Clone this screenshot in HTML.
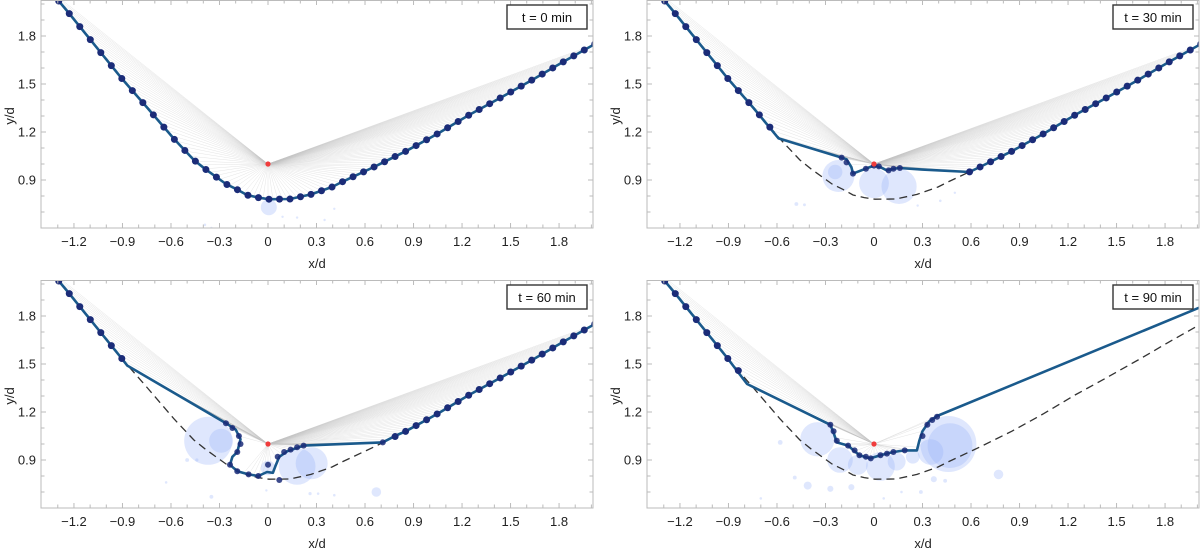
<!DOCTYPE html>
<html><head><meta charset="utf-8">
<style>
html,body{margin:0;padding:0;background:#fff;}
svg{display:block;font-family:"Liberation Sans",Arial,sans-serif;}
</style></head>
<body>
<svg id="chart" width="1200" height="549" viewBox="0 0 1200 549"></svg>
<script>
// ---- data ----
const initX = [-1.42,-1.237,-1.073,-0.909,-0.745,-0.581,-0.458,-0.39,-0.26,-0.19,-0.13,-0.06,0.006,0.136,0.266,0.396,0.458,0.655,0.853,1.05,1.243,1.44,1.633,1.82,2.03];
const initY = [2.17,1.95,1.745,1.54,1.35,1.156,1.025,0.97,0.875,0.84,0.806,0.79,0.78,0.781,0.81,0.856,0.888,0.981,1.08,1.19,1.306,1.415,1.525,1.635,1.755];

const t30X = [-1.42,-1.237,-1.073,-0.909,-0.745,-0.59,-0.2,-0.17,-0.14,-0.13,-0.08,-0.04,0,0.04,0.08,0.12,0.155,0.3,0.59,0.655,0.853,1.05,1.243,1.44,1.633,1.82,2.03];
const t30Y = [2.17,1.95,1.745,1.54,1.35,1.16,1.04,1.03,0.98,0.94,0.96,0.975,0.99,0.98,0.96,0.97,0.975,0.965,0.95,0.981,1.08,1.19,1.306,1.415,1.525,1.635,1.755];

const t60X = [-1.42,-1.237,-1.073,-0.909,-0.87,-0.26,-0.2,-0.17,-0.19,-0.22,-0.235,-0.19,-0.12,-0.06,-0.006,0.03,0.045,0.07,0.12,0.22,0.71,0.785,0.853,1.05,1.243,1.44,1.633,1.82,2.03];
const t60Y = [2.17,1.95,1.745,1.54,1.49,1.13,1.09,1.03,0.95,0.92,0.87,0.83,0.81,0.80,0.825,0.82,0.86,0.92,0.955,0.99,1.01,1.05,1.08,1.19,1.306,1.415,1.525,1.635,1.755];

const t90X = [-1.42,-1.237,-1.073,-0.909,-0.785,-0.27,-0.25,-0.23,-0.16,-0.09,-0.025,0.04,0.12,0.19,0.265,0.28,0.3,0.34,0.39,2.03];
const t90Y = [2.17,1.95,1.745,1.54,1.375,1.12,1.07,1.01,0.99,0.93,0.91,0.93,0.95,0.96,0.96,1.02,1.08,1.14,1.175,1.86];

const dotRanges0 = [[-1.35,2.03]];
const dotRanges30 = [[-1.35,-0.58],[0.58,2.03]];
const dotRanges60 = [[-1.35,-0.88],[0.78,2.03]];
const dotRanges90 = [[-1.35,-0.78]];
const cd0 = [[0.006,0.78]];
const cd30 = [[-0.2,1.04],[-0.17,1.01],[-0.13,0.94],[-0.05,0.97],[0,0.99],[0.03,0.985],[0.09,0.96],[0.12,0.97],[0.16,0.975]];
const cd60 = [[-0.26,1.13],[-0.22,1.1],[-0.18,1.05],[-0.17,1.0],[-0.19,0.95],[-0.235,0.87],[-0.19,0.83],[-0.12,0.81],[-0.06,0.80],[0.07,0.775],[0,0.87],[0.06,0.92],[0.1,0.95],[0.14,0.965],[0.18,0.98],[0.22,0.99],[0.71,1.01]];
const cd90 = [[-0.27,1.12],[-0.25,1.08],[-0.23,1.02],[-0.16,0.99],[-0.12,0.96],[-0.09,0.93],[-0.05,0.92],[-0.02,0.91],[0.04,0.93],[0.08,0.94],[0.12,0.95],[0.19,0.96],[0.3,1.05],[0.33,1.12],[0.36,1.15],[0.39,1.17]];
const b0 = [[0.005,0.73,0.05],[-0.39,0.62,0.008],[-0.35,0.6,0.006],[0.09,0.67,0.006],[0.18,0.665,0.005],[0.35,0.65,0.005],[0.41,0.72,0.003]];
const b30 = [[-0.22,0.925,0.1],[-0.24,0.95,0.045],[0,0.88,0.093],[0.155,0.86,0.11],[-0.48,0.75,0.012],[-0.43,0.745,0.009],[0.41,0.77,0.008],[0.27,0.74,0.006],[0.5,0.82,0.005]];
const b60 = [[-0.37,1.02,0.15],[-0.29,1.02,0.075],[0.18,0.86,0.115],[0.27,0.88,0.1],[0,0.85,0.045],[0.67,0.7,0.03],[-0.5,0.9,0.012],[-0.44,0.9,0.01],[-0.35,0.67,0.012],[0.26,0.69,0.01],[0.31,0.69,0.008],[0.41,0.68,0.008],[-0.63,0.76,0.008],[-0.01,0.71,0.007]];
const b90 = [[-0.35,1.03,0.107],[-0.21,0.9,0.08],[0.04,0.86,0.09],[-0.1,0.87,0.062],[0.14,0.89,0.056],[0.24,0.92,0.043],[0.35,0.95,0.08],[0.46,1.0,0.175],[0.47,0.99,0.14],[-0.41,0.74,0.025],[-0.27,0.72,0.019],[-0.14,0.73,0.019],[-0.58,1.01,0.015],[0.37,0.78,0.019],[0.44,0.77,0.012],[0.77,0.81,0.03],[0.29,0.7,0.012],[-0.49,0.79,0.012],[-0.7,0.66,0.008],[0.06,0.66,0.008],[0.17,0.7,0.008]];

const tickLabels = [-1.2,-0.9,-0.6,-0.3,0,0.3,0.6,0.9,1.2,1.5,1.8];
const yTickLabels = [0.9,1.2,1.5,1.8];

const panels = [
 {name:'t0', label:'t = 0 min', ox:0, oy:0, X:initX, Y:initY, dots:dotRanges0, cd:cd0, b:b0, rays:[-1.35,2.03], dashed:false},
 {name:'t30', label:'t = 30 min', ox:606, oy:0, X:t30X, Y:t30Y, dots:dotRanges30, cd:cd30, b:b30, rays:[-1.35,2.03], dashed:true},
 {name:'t60', label:'t = 60 min', ox:0, oy:280, X:t60X, Y:t60Y, dots:dotRanges60, cd:cd60, b:b60, rays:[-1.35,2.03], dashed:true},
 {name:'t90', label:'t = 90 min', ox:606, oy:280, X:t90X, Y:t90Y, dots:dotRanges90, cd:cd90, b:b90, rays:[-1.35,0.39], dashed:true}
];

const NS='http://www.w3.org/2000/svg';
const svg=document.getElementById('chart');
function el(tag,attrs,parent){const e=document.createElementNS(NS,tag);for(const k in attrs)e.setAttribute(k,attrs[k]);(parent||svg).appendChild(e);return e;}
function interp(X,Y,x){for(let i=0;i<X.length-1;i++){const a=X[i],b=X[i+1];if((x>=a&&x<=b)||(x>=b&&x<=a)){const t=(b===a)?0:(x-a)/(b-a);return Y[i]+t*(Y[i+1]-Y[i]);}}return null;}
function interpFirst(X,Y,x){for(let i=0;i<X.length-1;i++){ if(x>=X[i]&&x<=X[i+1]){const t=(x-X[i])/(X[i+1]-X[i]);return Y[i]+t*(Y[i+1]-Y[i]);}} return null;}
const fmt=v=>(v<0?'\u2212':'')+Math.abs(v).toString();

panels.forEach(p=>{
 const L=41+p.ox, R=593+p.ox, T=0+p.oy, B=228+p.oy;
 const sx=x=>268+p.ox+x*161.7;
 const sy=y=>164+p.oy-(y-1)*160;
 const g=el('g',{});
 
 
 const cid='clip-'+p.name;
 const cp=el('clipPath',{id:cid},g); el('rect',{x:L,y:T,width:R-L,height:B-T},cp);
 const plot=el('g',{'clip-path':'url(#'+cid+')'},g);
 p.b.forEach(c=>{const e=el('circle',{cx:sx(c[0]),cy:sy(c[1]),r:Math.max(1.2,c[2]*160),fill:'rgb(150,175,250)','fill-opacity':0.3},plot);
  });
 const rg=el('g',{stroke:'#c4c4c4','stroke-width':0.5,'stroke-opacity':0.45},plot);
 
 for(let x=p.rays[0];x<=p.rays[1]+1e-9;x+=0.03){const y=interpFirst(p.X,p.Y,x)??interp(p.X,p.Y,x);if(y==null)continue;
  el('line',{x1:sx(0),y1:sy(1),x2:sx(x),y2:sy(y)},rg);}
 if(p.dashed){const d=initX.map((x,i)=>(i?'L':'M')+sx(x).toFixed(1)+','+sy(initY[i]).toFixed(1)).join('');
  const e=el('path',{d:d,fill:'none',stroke:'#333','stroke-width':1.3,'stroke-dasharray':'8 5'},plot);
  }
 const d=p.X.map((x,i)=>(i?'L':'M')+sx(x).toFixed(1)+','+sy(p.Y[i]).toFixed(1)).join('');
 const pr=el('path',{d:d,fill:'none',stroke:'#1a5a8c','stroke-width':2.6,'stroke-linejoin':'round'},plot);
 
 p.dots.forEach(rg2=>{for(let k=-25;k<=35;k++){const x=0.006+k*0.065;if(x<rg2[0]||x>rg2[1])continue;
  const y=interp(initX,initY,x);const e=el('circle',{cx:sx(x),cy:sy(y),r:3.5,fill:'#1b2c78'},plot);
  }});
 p.cd.forEach(c=>{const e=el('circle',{cx:sx(c[0]),cy:sy(c[1]),r:3,fill:'#1b2c78','fill-opacity':0.85},plot);
  });
 const src=el('circle',{cx:sx(0),cy:sy(1),r:2.6,fill:'#f03c3c'},plot);
 
 const fr=el('rect',{x:L,y:T+0.5,width:R-L,height:B-T-0.5,fill:'none',stroke:'#bbb','stroke-width':1},g);
 
 const tk=el('g',{stroke:'#bbb','stroke-width':1},g);
 for(let i=-14;i<=20;i++){const x=i/10;const X=sx(x);if(X<=L+1||X>=R-1)continue;const len=(i%3===0)?5:3.5;
  el('line',{x1:X,y1:B,x2:X,y2:B-len},tk);el('line',{x1:X,y1:T,x2:X,y2:T+len},tk);}
 for(let i=7;i<=20;i++){const y=i/10;const Y=sy(y);if(Y<=T+1||Y>=B-1)continue;const len=(i%3===0)?5:3.5;
  el('line',{x1:L,y1:Y,x2:L+len,y2:Y},tk);el('line',{x1:R,y1:Y,x2:R-len,y2:Y},tk);}
 tickLabels.forEach(v=>{const t=el('text',{x:sx(v),y:B+18,'font-size':13,'text-anchor':'middle',fill:'#222'},g);t.textContent=fmt(v);
  });
 yTickLabels.forEach(v=>{const t=el('text',{x:L-5,y:sy(v)+4.5,'font-size':13,'text-anchor':'end',fill:'#222'},g);t.textContent=v.toFixed(1);
  });
 const xt=el('text',{x:317+p.ox,y:B+40,'font-size':13,'text-anchor':'middle',fill:'#222'},g);xt.textContent='x/d';
 
 const yt=el('text',{x:0,y:0,'font-size':13,'text-anchor':'middle',fill:'#222',transform:'translate('+(14+p.ox)+','+(116+p.oy)+') rotate(-90)'},g);yt.textContent='y/d';
 
 const lg=el('g',{},g);
 el('rect',{x:507+p.ox,y:5+p.oy,width:80,height:24,fill:'#fff',stroke:'#333','stroke-width':1.4},lg);
 const lt=el('text',{x:547+p.ox,y:22+p.oy,'font-size':13,'text-anchor':'middle',fill:'#111'},lg);lt.textContent=p.label;
});
</script>
</body></html>
